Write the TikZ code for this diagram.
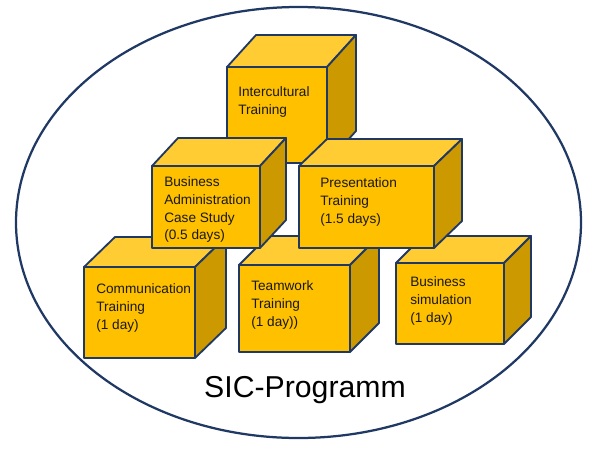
\documentclass[tikz,border=0pt]{standalone}
\usepackage{fontspec}
\setmainfont{Liberation Sans}
\usepackage{tikz}

\definecolor{boxfront}{HTML}{FFC000}
\definecolor{boxtop}{HTML}{FFCC33}
\definecolor{boxside}{HTML}{CC9A00}
\definecolor{boxline}{HTML}{203864}

% block: x, y (front top left), width, height, depth x, depth y
\newcommand{\block}[6]{
  \filldraw[front] (#1,#2) rectangle ++(#3,#4);
  \filldraw[front,fill=boxtop] (#1,#2) -- ++(#5,-#6) -- ++(#3,0) -- ++(-#5,#6) -- cycle;
  \filldraw[front,fill=boxside] (#1+#3,#2) -- ++(#5,-#6) -- ++(0,#4) -- ++(-#5,#6) -- cycle;
}

\begin{document}
\begin{tikzpicture}[x=0.025cm,y=-0.025cm,
    front/.style={fill=boxfront,draw=boxline,line width=1.3pt,line join=round},
    blocktext/.style={anchor=north west,inner sep=0pt,align=left,text=black!90,
      font={\fontsize{9.7}{12.5}\selectfont}}]
            \useasboundingbox (0,0) rectangle (600,450);

            \draw[boxline,line width=1.6pt] (298.5,222.5) ellipse (282.5 and 215.5);

            % bottom row
            \block{84}{267}{111}{91}{31}{30}
            \node[blocktext] (comm) at (96,283.7) {Communication\\Training\\(1 day)};

            \block{239}{265}{111}{87}{29}{29}
            \node[blocktext] (team) at (251,280.7) {Teamwork\\Training\\(1 day))};

            \block{396}{263}{108}{81}{27}{27}
            \node[blocktext] (sim) at (410,276.7) {Business\\simulation\\(1 day)};

            % top
            \block{227}{67}{100}{96}{29}{32}
            \node[blocktext] (inter) at (238,86.7) {Intercultural\\Training};

            % middle row
            \block{152}{166}{108}{82}{26}{28}
            \node[blocktext] (busadm) at (164,176.7) {Business\\Administration\\Case Study\\(0.5 days)};

            \block{299}{166}{135}{82}{28}{27}
            \node[blocktext] (pres) at (320,177.7) {Presentation\\Training\\(1.5 days)};

            \node[anchor=base,inner sep=0pt,font={\fontsize{21.5}{24}\selectfont}] (sic) at (305,397) {SIC-Programm};

        \end{tikzpicture}
\end{document}
